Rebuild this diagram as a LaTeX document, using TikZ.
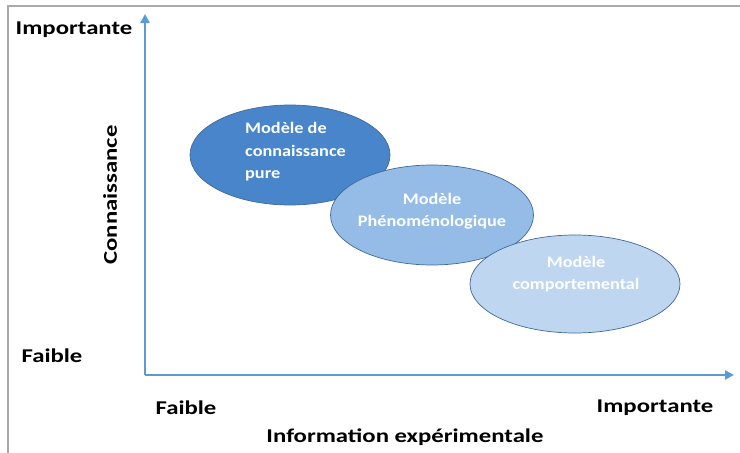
\documentclass[tikz,border=0pt]{standalone}
\usepackage{fontspec}
\setmainfont{Carlito}
\usetikzlibrary{arrows.meta,shapes.geometric}
\definecolor{axisblue}{RGB}{91,155,213}
\definecolor{ellA}{RGB}{72,133,202}
\definecolor{ellB}{RGB}{148,188,230}
\definecolor{ellC}{RGB}{190,214,240}
\definecolor{ellborder}{RGB}{65,105,150}
\definecolor{framegray}{RGB}{170,170,170}
\newcommand{\lx}[1]{\scalebox{1.27}[1]{#1}}
\newcommand{\ex}[1]{\scalebox{1.14}[1]{#1}}
\tikzset{
  axis/.style={draw=axisblue, line width=2.6pt, -{Triangle[length=9pt,width=9pt]}},
  model/.style={ellipse, draw=ellborder, line width=0.7pt, inner sep=0pt},
  mtext/.style={text=white, font=\bfseries\fontsize{16}{22.5}\selectfont, inner sep=0pt},
  lbl/.style={font=\bfseries\fontsize{19.5}{22}\selectfont, text=black, inner sep=0pt}
}
\begin{document}
\begin{tikzpicture}[x=1pt,y=-1pt]
\useasboundingbox (0,0) rectangle (740,453);
\fill[white] (0,0) rectangle (740,453);
\draw[framegray, line width=1.2pt] (8,453) -- (8,6) -- (740,6);
\coordinate (O) at (145,375);
\coordinate (ytip) at (145,14);
\coordinate (xtip) at (734,375);
\draw[axis] (O) -- (ytip);
\draw[axis] (O) -- (xtip);
\node[model, fill=ellA, minimum width=200pt, minimum height=100pt] (m1) at (290,155) {};
\node[model, fill=ellB, minimum width=203pt, minimum height=100pt] (m2) at (432,215) {};
\node[model, fill=ellC, minimum width=210pt, minimum height=98pt] (m3) at (575,284) {};
\node[mtext, align=left, anchor=west] (t1) at (245,152) {\ex{Modèle de}\\\ex{connaissance}\\\ex{pure}};
\node[mtext, align=center] (t2) at (432,211) {\ex{Modèle}\\\ex{Phénoménologique}};
\node[mtext, align=center] (t3) at (576,274) {\ex{Modèle}\\\ex{comportemental}};
\node[lbl] (yhigh) at (74,30) {\lx{Importante}};
\node[lbl] (ylow) at (52,356) {\lx{Faible}};
\node[lbl, rotate=90] (ylab) at (110,195) {\lx{Connaissance}};
\node[lbl] (xlow) at (186,408) {\lx{Faible}};
\node[lbl] (xhigh) at (655,408) {\lx{Importante}};
\node[lbl] (xlab) at (405,437) {\lx{Information expérimentale}};
\end{tikzpicture}
\end{document}
